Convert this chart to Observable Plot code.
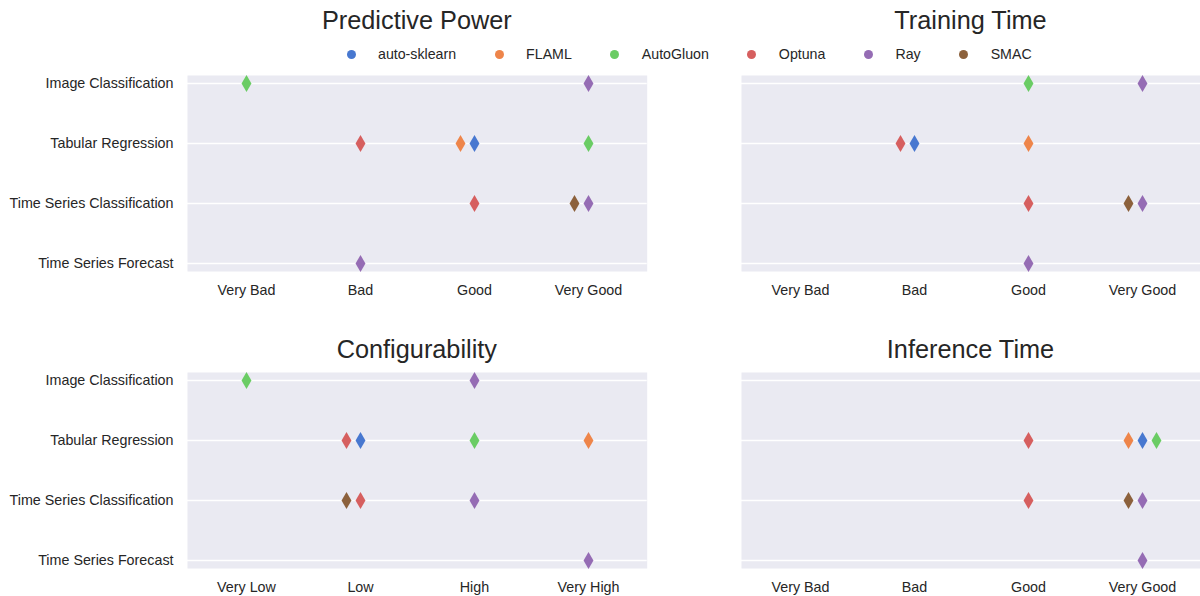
<!DOCTYPE html>
<html>
<head>
<meta charset="utf-8">
<script src="https://cdn.jsdelivr.net/npm/d3@7"></script>
<script src="https://cdn.jsdelivr.net/npm/@observablehq/plot@0.6"></script>
<style>
  html, body { margin: 0; padding: 0; background: #ffffff; }
  #chart { position: relative; width: 1200px; height: 596px; overflow: hidden;
    font-family: "Liberation Sans", Arial, sans-serif; color: #262626; }
  .panel { position: absolute; }
  .title { position: absolute; font-size: 25.3px; line-height: 25px; text-align: center; white-space: nowrap; }
  #legend { position: absolute; left: 346.5px; top: 45px; display: flex; align-items: center; font-size: 14.2px; line-height: 18px; }
  .item { display: flex; align-items: center; margin-right: 38.5px; }
  .sw { width: 9px; height: 9px; border-radius: 50%; margin-right: 22.5px; }
</style>
</head>
<body>
<div id="chart"></div>
<script>
// ---- data ----
const frameworks = ["auto-sklearn", "FLAML", "AutoGluon", "Optuna", "Ray", "SMAC"];
const palette = ["#4878d0", "#ee854a", "#6acc64", "#d65f5f", "#956cb4", "#8c613c"];
const tasks = ["Image Classification", "Tabular Regression", "Time Series Classification", "Time Series Forecast"];
const qualityLabels = ["Very Bad", "Bad", "Good", "Very Good"];
const levelLabels = ["Very Low", "Low", "High", "Very High"];

// [task, framework, rating]
const predictivePower = [
  ["Image Classification", "AutoGluon", "Very Bad"],
  ["Image Classification", "Ray", "Very Good"],
  ["Tabular Regression", "Optuna", "Bad"],
  ["Tabular Regression", "FLAML", "Good"],
  ["Tabular Regression", "auto-sklearn", "Good"],
  ["Tabular Regression", "AutoGluon", "Very Good"],
  ["Time Series Classification", "Optuna", "Good"],
  ["Time Series Classification", "SMAC", "Very Good"],
  ["Time Series Classification", "Ray", "Very Good"],
  ["Time Series Forecast", "Ray", "Bad"]
];
const trainingTime = [
  ["Image Classification", "AutoGluon", "Good"],
  ["Image Classification", "Ray", "Very Good"],
  ["Tabular Regression", "Optuna", "Bad"],
  ["Tabular Regression", "auto-sklearn", "Bad"],
  ["Tabular Regression", "FLAML", "Good"],
  ["Time Series Classification", "Optuna", "Good"],
  ["Time Series Classification", "SMAC", "Very Good"],
  ["Time Series Classification", "Ray", "Very Good"],
  ["Time Series Forecast", "Ray", "Good"]
];
const configurability = [
  ["Image Classification", "AutoGluon", "Very Low"],
  ["Image Classification", "Ray", "High"],
  ["Tabular Regression", "Optuna", "Low"],
  ["Tabular Regression", "auto-sklearn", "Low"],
  ["Tabular Regression", "AutoGluon", "High"],
  ["Tabular Regression", "FLAML", "Very High"],
  ["Time Series Classification", "SMAC", "Low"],
  ["Time Series Classification", "Optuna", "Low"],
  ["Time Series Classification", "Ray", "High"],
  ["Time Series Forecast", "Ray", "Very High"]
];
const inferenceTime = [
  ["Tabular Regression", "Optuna", "Good"],
  ["Tabular Regression", "FLAML", "Very Good"],
  ["Tabular Regression", "auto-sklearn", "Very Good"],
  ["Tabular Regression", "AutoGluon", "Very Good"],
  ["Time Series Classification", "Optuna", "Good"],
  ["Time Series Classification", "SMAC", "Very Good"],
  ["Time Series Classification", "Ray", "Very Good"],
  ["Time Series Forecast", "Ray", "Very Good"]
];

// ---- swarm-like arrangement: first in hue order at centre, next left, next right ----
function arrange(rows) {
  const recs = rows.map(([task, framework, rating]) => ({task, framework, rating}));
  const groups = d3.group(recs, d => d.task + "|" + d.rating);
  for (const g of groups.values()) {
    g.sort((a, b) => frameworks.indexOf(a.framework) - frameworks.indexOf(b.framework));
    g.forEach((d, i) => { d.slot = i === 0 ? 0 : (i % 2 === 1 ? -Math.ceil(i / 2) : Math.ceil(i / 2)); });
  }
  return recs;
}

const root = document.getElementById("chart");
const OFFSET = 14;

function panel({rows, ratings, title, left, top, width, height, mLeft, mRight, mTop, mBottom, showY}) {
  const data = arrange(rows);
  const slots = Array.from(new Set(data.map(d => d.slot)));
  const marks = [
    Plot.frame({fill: "#eaeaf2", stroke: null}),
    Plot.gridY({stroke: "#ffffff", strokeOpacity: 1, strokeWidth: 1.3}),
    Plot.axisX({tickSize: 0, tickPadding: 13.5, fontSize: 14.3}),
    showY ? Plot.axisY({tickSize: 0, tickPadding: 14, fontSize: 14.3}) : null,
    ...slots.map(s => Plot.dot(data.filter(d => d.slot === s), {
      x: "rating", y: "task", fill: "framework", symbol: "diamond", r: 5.2, dx: s * OFFSET
    }))
  ];
  const svg = Plot.plot({
    width, height,
    marginLeft: mLeft, marginRight: mRight, marginTop: mTop, marginBottom: mBottom,
    style: {fontFamily: "'Liberation Sans', Arial, sans-serif", fontSize: "14.3px", color: "#262626", background: "transparent", overflow: "visible"},
    x: {type: "point", domain: ratings, padding: 0.5, label: null},
    y: {type: "point", domain: tasks, padding: 0, insetTop: 8, insetBottom: 8, label: null, axis: null},
    color: {domain: frameworks, range: palette},
    marks
  });
  svg.classList.add("panel");
  svg.style.left = left + "px";
  svg.style.top = top + "px";
  root.appendChild(svg);

  const t = document.createElement("div");
  t.className = "title";
  t.textContent = title;
  const fl = left + mLeft, fr = left + width - mRight;
  t.style.left = (fl - 200) + "px";
  t.style.width = (fr - fl + 400) + "px";
  t.style.top = (top + mTop - (top < 100 ? 67 : 35)) + "px";
  root.appendChild(t);
}

panel({rows: predictivePower, ratings: qualityLabels, title: "Predictive Power",
  left: 0, top: 60, width: 660, height: 250, mLeft: 187, mRight: 13.3, mTop: 15, mBottom: 39, showY: true});
panel({rows: trainingTime, ratings: qualityLabels, title: "Training Time",
  left: 660, top: 60, width: 540, height: 250, mLeft: 81, mRight: 0, mTop: 15, mBottom: 39, showY: false});
panel({rows: configurability, ratings: levelLabels, title: "Configurability",
  left: 0, top: 357, width: 660, height: 239, mLeft: 187, mRight: 13.3, mTop: 15, mBottom: 28, showY: true});
panel({rows: inferenceTime, ratings: qualityLabels, title: "Inference Time",
  left: 660, top: 357, width: 540, height: 239, mLeft: 81, mRight: 0, mTop: 15, mBottom: 28, showY: false});

// legend
const legend = document.createElement("div");
legend.id = "legend";
frameworks.forEach((f, i) => {
  const item = document.createElement("div");
  item.className = "item";
  const sw = document.createElement("span");
  sw.className = "sw";
  sw.style.background = palette[i];
  const lab = document.createElement("span");
  lab.textContent = f;
  item.appendChild(sw);
  item.appendChild(lab);
  legend.appendChild(item);
});
root.appendChild(legend);
</script>
</body>
</html>
